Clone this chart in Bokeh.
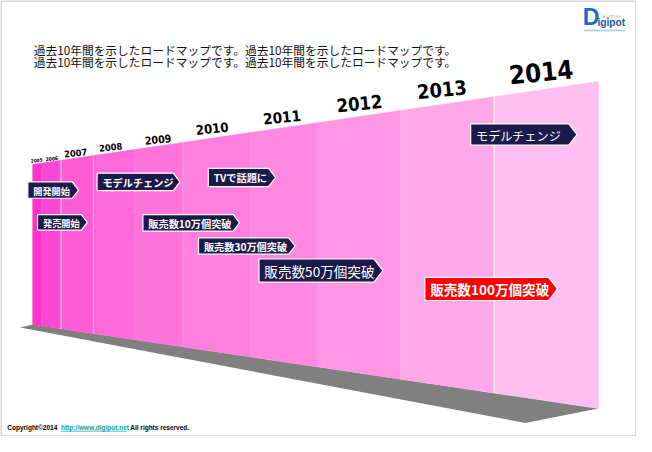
from bokeh.plotting import figure
from bokeh.models import Range1d, ColumnDataSource
from bokeh.core.properties import value
from bokeh.embed import file_html
from bokeh.resources import INLINE

# ---------------- data ----------------
years = [2005, 2006, 2007, 2008, 2009, 2010, 2011, 2012, 2013, 2014]
milestone_labels = ["開発開始", "発売開始", "モデルチェンジ", "TVで話題に",
                    "販売数10万個突破", "販売数30万個突破", "販売数50万個突破",
                    "販売数100万個突破", "モデルチェンジ"]
milestone_years = [2005, 2006, 2008, 2010, 2009, 2010, 2011, 2013, 2014]
heading = "過去10年間を示したロードマップです。過去10年間を示したロードマップです。"
heading_lines = [heading, heading]
copyright_parts = ["Copyright©2014", "http://www.digipot.net", "All rights reserved."]

# ---------------- layout (pixel space of the slide, 652 x 452) ----------------
S = 0.97  # figure is 636x436, slide is 652x452
col_edges = [33, 42, 62, 95, 137, 187, 256, 325, 410, 506, 613]
col_colors = ["#ff33cc", "#ff48d1", "#ff5cd6", "#ff69d9", "#ff75dc", "#ff7fdf",
              "#ff89e1", "#ff97e4", "#ffa9e9", "#ffbff0"]
X0, X1 = 33, 613
TOP0, TOP1 = 170, 84
BOT0, BOT1 = 336, 423

def y_top(x):
    return TOP0 + (TOP1 - TOP0) * (x - X0) / (X1 - X0)

def y_bot(x):
    return BOT0 + (BOT1 - BOT0) * (x - X0) / (X1 - X0)

def px(s):
    return f"{s * S:.2f}px"

year_pos = [(37, 165.5), (52.5, 164), (77, 158), (113, 152), (161.5, 144),
            (217, 133), (288.5, 120.5), (368, 107), (452.5, 92.5), (554, 73.5)]
year_size = [4.8, 5.2, 9.5, 9.5, 11, 13.5, 15.5, 19, 20.5, 26.5]

# box: x_left, x_tip, y_top, y_bottom, font size, bold, fill
boxes = [
    (28, 80, 188, 205, 9.5, True, "#1b1a4a"),
    (38, 89, 222, 238, 9.5, True, "#1b1a4a"),
    (99, 184, 179, 197, 10.5, True, "#1b1a4a"),
    (213, 282, 174, 193, 10.5, True, "#1b1a4a"),
    (146, 245, 222, 239, 10.5, True, "#1b1a4a"),
    (203, 302, 246, 263, 10.5, True, "#1b1a4a"),
    (265, 392, 268, 292, 14, False, "#1b1a4a"),
    (435, 571, 287, 311, 14, True, "#ff0000"),
    (482, 591, 128, 150, 12.5, False, "#1b1a4a"),
]

p = figure(width=636, height=436, x_range=Range1d(0, 652), y_range=Range1d(452, 0),
           output_backend="svg", toolbar_location=None, min_border=0,
           x_axis_type=None, y_axis_type=None)
p.grid.visible = False
p.outline_line_color = None
p.background_fill_color = "white"
p.border_fill_color = "white"

# slide border
p.patch(x=[0.5, 651.5, 651.5, 0.5], y=[0.5, 0.5, 451.5, 451.5], fill_color=None,
        line_color="#b0b0b0", line_width=1)

# shadow
p.patch(x=[20, X0, X1, 538], y=[339, BOT0, BOT1, 438], fill_color="#808080", line_color=None)

# columns
xs, ys = [], []
for i in range(len(years)):
    a, b = col_edges[i], col_edges[i + 1]
    xs.append([a, b, b, a])
    ys.append([y_top(a), y_top(b), y_bot(b), y_bot(a)])
p.patches(xs=xs, ys=ys, fill_color=col_colors, line_color=col_colors, line_width=0.5)

# light separators
for e, alpha in [(62, 0.8), (95, 0.35), (187, 0.25), (506, 0.9)]:
    p.line(x=[e, e], y=[y_top(e), y_bot(e)], line_color="white", line_alpha=alpha, line_width=1)

# year labels
YEAR_FONT = value("'Liberation Sans Narrow', 'Arial Narrow', 'DejaVu Sans Condensed', 'Liberation Sans', sans-serif")
ysrc = ColumnDataSource(dict(x=[q[0] for q in year_pos], y=[q[1] for q in year_pos],
                             t=[str(v) for v in years],
                             fs=[px(s) for s in year_size],
                             ang=[0.1] * len(years)))
p.text(x="x", y="y", text="t", text_font_size="fs", angle="ang", source=ysrc,
       text_font=YEAR_FONT, text_font_style="bold",
       text_color="black", text_align="center", text_baseline="middle")

# milestone boxes
bx, by, fills = [], [], []
for (xl, xt, yt, yb, fs, bold, fill) in boxes:
    d = (yb - yt) * 0.38
    ym = (yt + yb) / 2
    bx.append([xl, xt - d, xt, xt - d, xl])
    by.append([yt, yt, ym, yb, yb])
    fills.append(fill)
p.patches(xs=bx, ys=by, fill_color=fills, line_color="white", line_width=1.2)

for lab, (xl, xt, yt, yb, fs, bold, fill) in zip(milestone_labels, boxes):
    p.text(x=[xl + 5.5], y=[(yt + yb) / 2 + 0.5], text=[lab],
           text_font=value("Noto Sans CJK JP"), text_font_size=px(fs),
           text_font_style="bold" if bold else "normal",
           text_color="white", text_align="left", text_baseline="middle")

# heading
p.text(x=[34, 34], y=[51, 63.5], text=heading_lines,
       text_font=value("Noto Sans CJK JP"), text_font_size=px(12.1),
       text_color="#111111", text_align="left", text_baseline="middle")

# logo
p.text(x=[597], y=[31], text=["D"], text_font=value("Liberation Sans"),
       text_font_size=px(24), text_font_style="bold", text_color="#1d6fc4",
       text_align="left", text_baseline="bottom")
p.text(x=[612], y=[29], text=["igipot"], text_font=value("Liberation Sans"),
       text_font_size=px(10.5), text_font_style="bold", text_color="#1a5aa6",
       text_align="left", text_baseline="bottom")
p.text(x=[617], y=[16], text=["デジポット"], text_font=value("Noto Sans CJK JP"),
       text_font_size=px(4), text_color="#777777", text_align="left", text_baseline="middle")
p.line(x=[598, 640], y=[31, 31], line_color="#9cd0f0", line_width=1.5)

# copyright
cx = [7, 62, 133]
ccol = ["#000000", "#11a0a0", "#000000"]
for t, x0, c in zip(copyright_parts, cx, ccol):
    p.text(x=[x0], y=[443], text=[t], text_font=value("Liberation Sans"),
           text_font_size=px(6.7), text_font_style="bold", text_color=c,
           text_align="left", text_baseline="middle")
p.line(x=[62, 130], y=[446.5, 446.5], line_color="#11a0a0", line_width=0.7)

open("out.html", "w").write(file_html(p, INLINE))
